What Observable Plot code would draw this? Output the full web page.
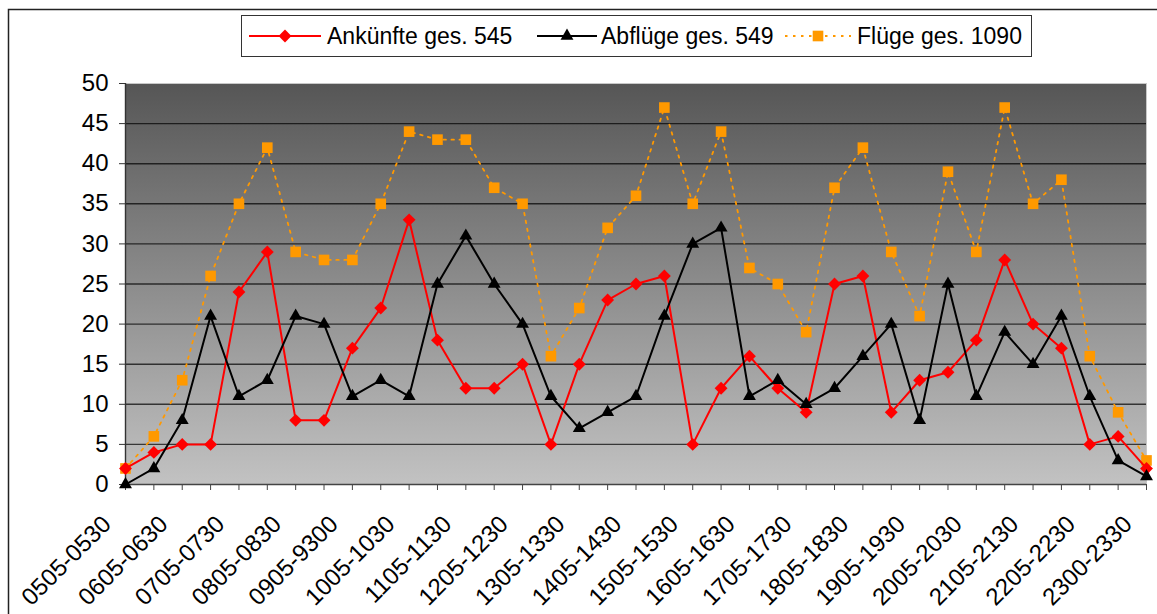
<!DOCTYPE html>
<html>
<head>
<meta charset="utf-8">
<script src="https://cdn.jsdelivr.net/npm/d3@7"></script>
<script src="https://cdn.jsdelivr.net/npm/@observablehq/plot@0.6"></script>
<style>
  html, body { margin: 0; padding: 0; background: #fff; }
  #chart { width: 1157px; height: 614px; overflow: hidden; }
</style>
</head>
<body>
<div id="chart"></div>
<script>
// ---- data ----
const categories = [
  "0505-0530","0535-0600","0605-0630","0635-0700","0705-0730","0735-0800",
  "0805-0830","0835-0900","0905-9300","0935-1000","1005-1030","1035-1100",
  "1105-1130","1135-1200","1205-1230","1235-1300","1305-1330","1335-1400",
  "1405-1430","1435-1500","1505-1530","1535-1600","1605-1630","1635-1700",
  "1705-1730","1735-1800","1805-1830","1835-1900","1905-1930","1935-2000",
  "2005-2030","2035-2100","2105-2130","2135-2200","2205-2230","2235-2300",
  "2300-2330"
];
const ankuenfte = [2,4,5,5,24,29,8,8,17,22,33,18,12,12,15,5,15,23,25,26,5,12,16,12,9,25,26,9,13,14,18,28,20,17,5,6,2];
const abfluege  = [0,2,8,21,11,13,21,20,11,13,11,25,31,25,20,11,7,9,11,21,30,32,11,13,10,12,16,20,8,25,11,19,15,21,11,3,1];
const fluege    = [2,6,13,26,35,42,29,28,28,35,44,43,43,37,35,16,22,32,36,47,35,44,27,25,19,37,42,29,21,39,29,47,35,38,16,9,3];
const yTicks = [0,5,10,15,20,25,30,35,40,45,50];
const seriesNames = ["Ankünfte ges. 545", "Abflüge ges. 549", "Flüge ges. 1090"];

// ---- table ----
const rows = categories.map((c, i) => ({cat: c, an: ankuenfte[i], ab: abfluege[i], fl: fluege[i]}));
const labelCats = categories.filter((c, i) => i % 2 === 0);

const FONT = "'Liberation Sans', Arial, Helvetica, sans-serif";
const RED = "#ff0000", BLACK = "#000000", ORANGE = "#ff9900";

const chart = Plot.plot({
  width: 1157,
  height: 614,
  marginLeft: 125,
  marginRight: 11,
  marginTop: 83,
  marginBottom: 130,
  style: {fontFamily: FONT, background: "transparent", overflow: "visible"},
  x: {type: "point", domain: categories, padding: 0, round: false},
  y: {domain: [0, 50]},
  marks: [
    Plot.frame({fill: "url(#plotbg)", stroke: "#c8c8c8"}),
    Plot.ruleY(yTicks.filter(d => d > 0 && d < 50), {stroke: "#000", strokeOpacity: 0.7, strokeWidth: 1.4}),
    Plot.axisY({ticks: yTicks, tickSize: 6, tickPadding: 11, fontSize: 24, label: null,
                tickFormat: d => String(d), color: "#000", stroke: "#333"}),
    Plot.axisX({ticks: categories, tickSize: 6, tickFormat: () => "", label: null, stroke: "#444"}),
    Plot.text(labelCats, {x: d => d, frameAnchor: "bottom", rotate: -45, textAnchor: "end",
                          lineAnchor: "bottom", dx: -13, dy: 41, fontSize: 24, fill: "#000"}),
    Plot.ruleX([categories[0]], {stroke: "#333", strokeWidth: 1.4}),
    Plot.ruleY([0], {stroke: "#444", strokeWidth: 1.4}),
    // Flüge (orange, dashed)
    Plot.line(rows, {x: "cat", y: "fl", stroke: ORANGE, strokeWidth: 1.8, strokeDasharray: "2.5,5.5"}),
    Plot.dot(rows, {x: "cat", y: "fl", symbol: "square", r: 6.0, fill: ORANGE, stroke: "none"}),
    // Ankünfte (red)
    Plot.line(rows, {x: "cat", y: "an", stroke: RED, strokeWidth: 2}),
    Plot.dot(rows, {x: "cat", y: "an", symbol: "diamond2", r: 5.8, fill: RED, stroke: "none"}),
    // Abflüge (black)
    Plot.line(rows, {x: "cat", y: "ab", stroke: BLACK, strokeWidth: 2}),
    Plot.dot(rows, {x: "cat", y: "ab", symbol: "triangle", r: 4.8, fill: BLACK, stroke: "none"})
  ]
});

const svg = d3.select(chart);
const defs = svg.insert("defs", ":first-child");
const grad = defs.append("linearGradient").attr("id", "plotbg")
  .attr("x1", 0).attr("y1", 0).attr("x2", 0).attr("y2", 1);
grad.append("stop").attr("offset", "0%").attr("stop-color", "#565656");
grad.append("stop").attr("offset", "100%").attr("stop-color", "#c2c2c2");

// outer chart border
svg.append("rect").attr("x", 8.5).attr("y", 9.5).attr("width", 1160).attr("height", 620)
  .attr("fill", "none").attr("stroke", "#222").attr("stroke-width", 1.5);

// legend
const lg = svg.append("g").attr("font-family", FONT).attr("font-size", 23).attr("text-anchor", "start");
lg.append("rect").attr("x", 241.5).attr("y", 15.5).attr("width", 790).attr("height", 41)
  .attr("fill", "#fff").attr("stroke", "#333").attr("stroke-width", 1);
const items = [
  {name: seriesNames[0], color: RED, dash: null, sym: d3.symbolDiamond2, size: Math.PI * 5.8 * 5.8, x0: 249, x1: 321, tx: 327},
  {name: seriesNames[1], color: BLACK, dash: null, sym: d3.symbolTriangle, size: Math.PI * 4.8 * 4.8, x0: 537, x1: 597, tx: 601},
  {name: seriesNames[2], color: ORANGE, dash: "2.5,5.5", sym: d3.symbolSquare, size: Math.PI * 6.0 * 6.0, x0: 785, x1: 851, tx: 857}
];
const ly = 36;
items.forEach(it => {
  lg.append("line").attr("x1", it.x0).attr("x2", it.x1).attr("y1", ly).attr("y2", ly)
    .attr("stroke", it.color).attr("stroke-width", 1.8).attr("stroke-dasharray", it.dash);
  lg.append("path").attr("d", d3.symbol(it.sym, it.size)())
    .attr("transform", `translate(${(it.x0 + it.x1) / 2},${ly})`).attr("fill", it.color);
  lg.append("text").attr("x", it.tx).attr("y", ly + 8).attr("fill", "#000").text(it.name);
});

document.getElementById("chart").appendChild(chart);
</script>
</body>
</html>
